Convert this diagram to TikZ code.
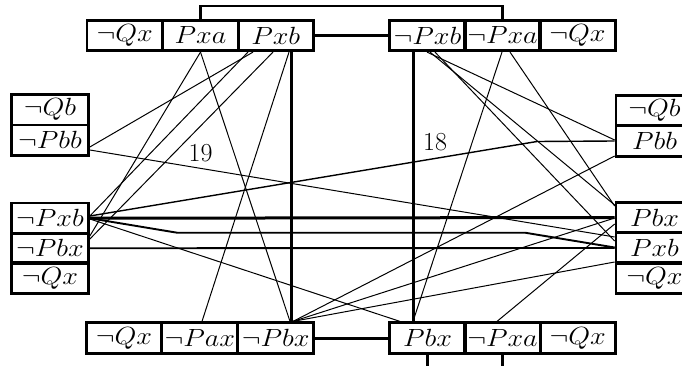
\documentclass[tikz,border=0pt]{standalone}
\usepackage{graphicx}
\usetikzlibrary{calc}
\newcommand{\litx}[1]{\scalebox{1.13}[1]{$#1$}}
\tikzset{
  lit/.style={draw, line width=2.7pt, minimum width=75.5pt, minimum height=30.5pt, inner sep=0pt, font=\fontsize{24.88}{30}\selectfont},
  sidelit/.style={lit, minimum width=77pt},
  wire/.style={line width=1pt},
  midwire/.style={line width=1.9pt},
  heavy/.style={line width=3pt},
  num/.style={font=\fontsize{26}{30}\selectfont, inner sep=0pt}
}
\begin{document}
\begin{tikzpicture}[x=1pt, y=-1pt]
\path[use as bounding box, clip] (0,0) rectangle (682,366);
% top row
\node[lit] (T1) at (124.75,35.5) {\litx{\neg Qx}};
\node[lit] (T2) at (200.5,35.5) {\litx{Pxa}};
\node[lit] (T3) at (275.75,35.5) {\litx{Pxb}};
\node[lit] (T4) at (427.5,35.5) {\litx{\neg Pxb}};
\node[lit] (T5) at (502.5,35.5) {\litx{\neg Pxa}};
\node[lit] (T6) at (577.5,35.5) {\litx{\neg Qx}};
% left column
\node[sidelit] (L1) at (50,109.75) {\litx{\neg Qb}};
\node[sidelit] (L2) at (50,140.25) {\litx{\neg Pbb}};
\node[sidelit] (L3) at (50,218.25) {\litx{\neg Pxb}};
\node[sidelit] (L4) at (50,248.25) {\litx{\neg Pbx}};
\node[sidelit] (L5) at (50,278) {\litx{\neg Qx}};
% right column
\node[sidelit] (R1) at (654.5,110.5) {\litx{\neg Qb}};
\node[sidelit] (R2) at (654.5,141) {\litx{Pbb}};
\node[sidelit] (R3) at (654.5,217.5) {\litx{Pbx}};
\node[sidelit] (R4) at (654.5,248) {\litx{Pxb}};
\node[sidelit] (R5) at (654.5,278) {\litx{\neg Qx}};
% bottom row
\node[lit] (B1) at (124,338) {\litx{\neg Qx}};
\node[lit] (B2) at (199.75,338) {\litx{\neg Pax}};
\node[lit] (B3) at (275.75,338) {\litx{\neg Pbx}};
\node[lit] (B4) at (427.5,338) {\litx{Pbx}};
\node[lit] (B5) at (502.5,338) {\litx{\neg Pxa}};
\node[lit] (B6) at (577.75,338) {\litx{\neg Qx}};
% labels
\node[num] (n19) at (200.5,153) {19};
\node[num] (n18) at (435,142.5) {18};
% helper coordinates
\coordinate (bar) at (0,6);
\coordinate (k1) at (177,232.7);
\coordinate (k2) at (525,232.7);
\coordinate (k3) at (537,141.5);
% top connector and bottom stubs
\draw[line width=2.5pt] (T2.north) -- (T2.north |- bar) -- (T5.north |- bar) -- (T5.north);
\draw[line width=2.2pt] (T3.east) -- (T4.west);
\draw[heavy] (B4.south) -- ++(0,20);
\draw[heavy] (B5.south) -- ++(0,20);
% heavy links
\draw[heavy] ([xshift=15.75pt]T3.south) -- ([xshift=15.75pt]B3.north);
\draw[heavy] ([xshift=-14.5pt]T4.south) -- ([xshift=-14.5pt]B4.north);
\draw[heavy] (B3.east) -- (B4.west);
\draw[heavy] (L3.east) -- (R3.west);
\draw[midwire] (L4.east) -- (R4.west);
\draw[midwire] (L3.east) -- (k1) -- (k2) -- ([yshift=0.5pt]R4.west);
\draw[line width=1.4pt] (R2.west) -- (k3) -- ([yshift=2.25pt]L3.east);
% thin links
\draw[wire] ([yshift=-9.75pt]L2.east) -- ([yshift=11pt]R4.west);
\draw[wire] ([xshift=-22.75pt]T3.south) -- ([yshift=-6.75pt]L2.east);
\draw[wire] ([xshift=-27.75pt]T3.south) -- ([yshift=2.25pt]L3.east);
\draw[wire] ([xshift=-2.75pt]T3.south) -- ([yshift=9.25pt]L4.east);
\draw[wire] (T2.south) -- ([yshift=12.25pt]L4.east);
\draw[wire] (T2.south) -- ([xshift=14.25pt]B3.north);
\draw[wire] ([xshift=13.25pt]T3.south) -- ([xshift=2.25pt]B2.north);
\draw[wire] ([xshift=-0.5pt]T4.south) -- ([yshift=1pt]R2.west);
\draw[wire] ([xshift=2.5pt]T4.south) -- ([yshift=12.5pt]R3.west);
\draw[wire] ([xshift=7.5pt]T4.south) -- ([yshift=7pt]R4.west);
\draw[wire] ([xshift=-0.5pt]T5.south) -- ([xshift=-14.5pt]B4.north);
\draw[wire] ([xshift=7.5pt]T5.south) -- ([yshift=11.5pt]R3.west);
\draw[wire] ([yshift=-0.75pt]L3.east) -- ([xshift=-27.5pt]B4.north);
\draw[wire] ([xshift=17.25pt]B3.north) -- ([yshift=-15pt]R2.west);
\draw[wire] ([xshift=17.25pt]B3.north) -- ([yshift=-0.5pt]R3.west);
\draw[wire] ([xshift=17.25pt]B3.north) -- ([yshift=-14pt]R4.west);
\draw[wire] ([xshift=-5.5pt]B5.north) -- ([yshift=-6.5pt]R3.west);
\end{tikzpicture}
\end{document}
